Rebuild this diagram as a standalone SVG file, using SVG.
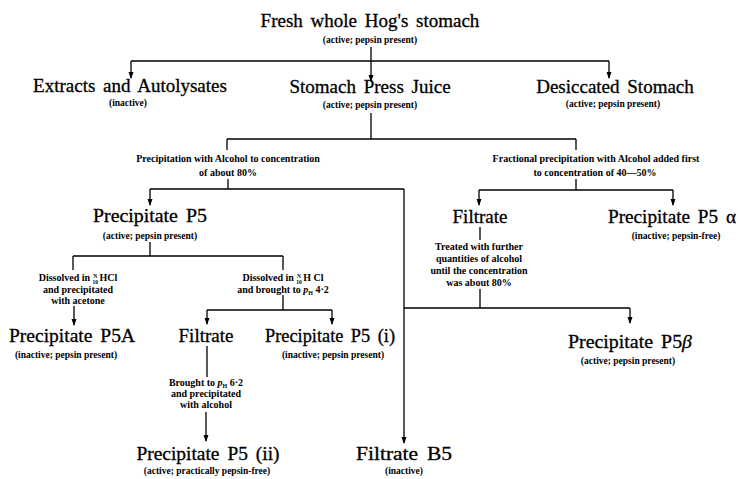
<svg xmlns="http://www.w3.org/2000/svg" width="738" height="479" viewBox="0 0 738 479">
<style>
.big{font-family:"Liberation Serif","Times New Roman",serif;font-size:19px;word-spacing:3px;text-anchor:middle;fill:#000;stroke:#000;stroke-width:0.3}
.sub{font-family:"Liberation Serif","Times New Roman",serif;font-size:9.5px;font-weight:bold;text-anchor:middle;fill:#000}
.lab{font-family:"Liberation Serif","Times New Roman",serif;font-size:10px;font-weight:bold;text-anchor:middle;fill:#000}
.ln{fill:none;stroke:#000;stroke-width:1.3}
.ar{fill:none;stroke:#000;stroke-width:1.3;marker-end:url(#ah)}
</style>
<defs>
<marker id="ah" markerWidth="7" markerHeight="6" refX="6" refY="2.5" orient="auto" markerUnits="userSpaceOnUse">
<path d="M0,0 L7,2.5 L0,5 z" fill="#000"/>
</marker>
</defs>
<rect width="738" height="479" fill="#fff"/>
<g id="connectors">
<path class="ln" d="M371,47 V61 M131,61 H609"/>
<path class="ar" d="M371,61 V81"/>
<path class="ar" d="M131,61 V78"/>
<path class="ar" d="M609,61 V78"/>
<path class="ln" d="M371,113 V139 M227,139 H576 M227,139 V150 M576,139 V150"/>
<path class="ln" d="M228,179 V189 M150,189 H404"/>
<path class="ar" d="M150,189 V205"/>
<path class="ar" d="M404,189 V443"/>
<path class="ln" d="M576,179 V190 M479,190 H673"/>
<path class="ar" d="M479,190 V205"/>
<path class="ar" d="M673,190 V205"/>
<path class="ln" d="M150,242 V256 M73,256 H283 M73,256 V270 M283,256 V270"/>
<path class="ar" d="M74,306 V325"/>
<path class="ln" d="M283,295 V310 M207,310 H332"/>
<path class="ar" d="M207,310 V324"/>
<path class="ar" d="M332,310 V324"/>
<path class="ln" d="M480,227 V240 M480,289 V308 M404,308 H630"/>
<path class="ar" d="M630,308 V323"/>
<path class="ln" d="M207,346 V377"/>
<path class="ar" d="M206,412 V441"/>
<text class="lab" x="228" y="162">Precipitation with Alcohol to concentration</text>
<text class="lab" x="228" y="176">of about 80%</text>
<text class="lab" x="596" y="162">Fractional precipitation with Alcohol added first</text>
<text class="lab" x="595" y="176">to concentration of 40—50%</text>
<text class="lab" x="78" y="281">Dissolved in <tspan font-size="5.5" dx="0.8" dy="-3.5">N</tspan><tspan font-size="5.5" dx="-4.8" dy="6">10</tspan><tspan dx="1.5" dy="-2.5">HCl</tspan></text>
<text class="lab" x="78" y="293">and precipitated</text>
<text class="lab" x="78" y="304">with acetone</text>
<text class="lab" x="283" y="281">Dissolved in <tspan font-size="5.5" dx="0.8" dy="-3.5">N</tspan><tspan font-size="5.5" dx="-4.8" dy="6">10</tspan><tspan dx="1.5" dy="-2.5">H Cl</tspan></text>
<text class="lab" x="283" y="293">and brought to <tspan font-style="italic">p</tspan><tspan font-size="6" dy="2">H</tspan><tspan dy="-2"> 4·2</tspan></text>
<text class="lab" x="479" y="250">Treated with further</text>
<text class="lab" x="479" y="262">quantities of alcohol</text>
<text class="lab" x="479" y="274">until the concentration</text>
<text class="lab" x="479" y="286">was about 80%</text>
<text class="lab" x="206" y="386">Brought to <tspan font-style="italic">p</tspan><tspan font-size="6" dy="2">H</tspan><tspan dy="-2"> 6·2</tspan></text>
<text class="lab" x="206" y="397">and precipitated</text>
<text class="lab" x="206" y="408">with alcohol</text>
</g>
<g id="n0"><text class="big" x="370" y="27">Fresh whole Hog's stomach</text><text class="sub" x="370" y="43">(active; pepsin present)</text></g>
<g id="n1"><text class="big" x="130" y="92">Extracts and Autolysates</text><text class="sub" x="128" y="106">(inactive)</text></g>
<g id="n2"><text class="big" x="370" y="93">Stomach Press Juice</text><text class="sub" x="370" y="108">(active; pepsin present)</text></g>
<g id="n3"><text class="big" x="615" y="93">Desiccated Stomach</text><text class="sub" x="613" y="107">(active; pepsin present)</text></g>
<g id="n4"><text class="big" x="150" y="222" textLength="114" lengthAdjust="spacingAndGlyphs">Precipitate P5</text><text class="sub" x="150" y="239">(active; pepsin present)</text></g>
<g id="n5"><text class="big" x="480" y="223" textLength="55" lengthAdjust="spacingAndGlyphs">Filtrate</text></g>
<g id="n6"><text class="big" x="672" y="223" textLength="128" lengthAdjust="spacingAndGlyphs">Precipitate P5 α</text><text class="sub" x="676" y="239">(inactive; pepsin-free)</text></g>
<g id="n7"><text class="big" x="72" y="342" textLength="126" lengthAdjust="spacingAndGlyphs">Precipitate P5A</text><text class="sub" x="66" y="358">(inactive; pepsin present)</text></g>
<g id="n8"><text class="big" x="206" y="342" textLength="55" lengthAdjust="spacingAndGlyphs">Filtrate</text></g>
<g id="n9"><text class="big" x="330" y="342" textLength="130" lengthAdjust="spacingAndGlyphs">Precipitate P5 (i)</text><text class="sub" x="333" y="358">(inactive; pepsin present)</text></g>
<g id="n10"><text class="big" x="630" y="348" textLength="124" lengthAdjust="spacingAndGlyphs">Precipitate P5<tspan font-style="italic">β</tspan></text><text class="sub" x="628" y="364">(active; pepsin present)</text></g>
<g id="n11"><text class="big" x="208" y="460" textLength="143" lengthAdjust="spacingAndGlyphs">Precipitate P5 (ii)</text><text class="sub" x="207" y="474">(active; practically pepsin-free)</text></g>
<g id="n12"><text class="big" x="404" y="460" textLength="96" lengthAdjust="spacingAndGlyphs">Filtrate B5</text><text class="sub" x="404" y="474">(inactive)</text></g>
</svg>
